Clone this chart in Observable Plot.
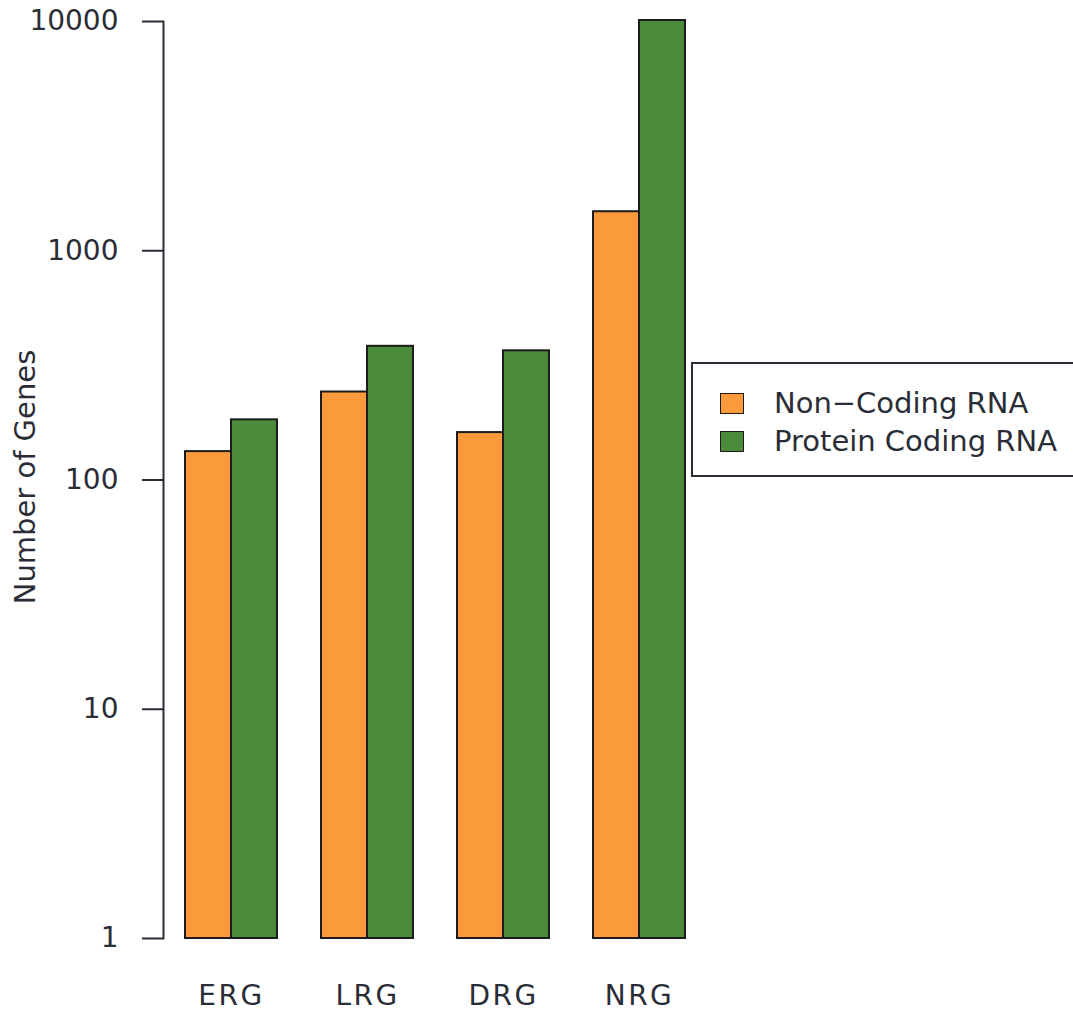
<!DOCTYPE html>
<html>
<head>
<meta charset="utf-8">
<script src="https://cdn.jsdelivr.net/npm/d3@7"></script>
<script src="https://cdn.jsdelivr.net/npm/@observablehq/plot@0.6"></script>
<style>
  html, body { margin: 0; padding: 0; background: #fff; overflow: hidden; }
  #wrap { position: relative; width: 1073px; height: 1013px; }
  .genes g[aria-label="fx-axis tick label"] text { letter-spacing: 2.5px; }
  #ytitle {
    position: absolute; left: 25px; top: 477px;
    transform: translate(-50%, -50%) rotate(-90deg);
    font: 29px "DejaVu Sans", sans-serif; color: #2a2d36; white-space: nowrap;
  }
  #legend {
    position: absolute; left: 691px; top: 362px; width: 420px; height: 111px;
    border: 2.5px solid #2a2d36; background: #fff; box-sizing: content-box;
    font: 29px "DejaVu Sans", sans-serif; color: #2a2d36;
  }
  #legend .row { position: absolute; left: 27px; height: 38px; display: flex; align-items: center; white-space: nowrap; }
  #legend .sw { width: 22px; height: 19px; border: 1.5px solid #1c1c1c; margin-right: 30px; }
</style>
</head>
<body>
<div id="wrap"></div>
<script>
// Gene counts per response group, by RNA type (log scale)
const groups = ["ERG", "LRG", "DRG", "NRG"];
const series = ["Non\u2212Coding RNA", "Protein Coding RNA"];
const nonCoding = [133, 242, 161, 1480];
const proteinCoding = [183, 383, 366, 10100];
const colors = ["#fa9a3a", "#4b8b3b"];
const yTicks = [1, 10, 100, 1000, 10000];

const rows = groups.flatMap((g, i) => [
  {group: g, type: series[0], value: nonCoding[i]},
  {group: g, type: series[1], value: proteinCoding[i]}
]);

const ink = "#2a2d36";

const chart = Plot.plot({
  width: 1073,
  height: 1013,
  marginTop: 21,
  marginBottom: 75,
  marginLeft: 163,
  marginRight: 366,
  className: "genes",
  style: {fontFamily: "DejaVu Sans, sans-serif", fontSize: "28px", color: ink, background: "#fff", overflow: "visible"},
  fx: {domain: groups, padding: 0, label: null},
  x: {domain: series, paddingInner: 0, paddingOuter: 0.478, axis: null},
  y: {type: "log", domain: [1, 10000], label: null},
  color: {domain: series, range: colors},
  marks: [
    Plot.barY(rows, {
      fx: "group", x: "type", y1: 1, y2: "value",
      fill: "type", stroke: "#1c1c1c", strokeWidth: 2
    }),
    // vertical axis line on the leftmost facet only
    Plot.frame({anchor: "left", facetAnchor: "left", stroke: ink, strokeWidth: 2}),
    Plot.axisY({
      ticks: yTicks, tickFormat: d => String(d),
      tickSize: 21, tickPadding: 24, strokeWidth: 2,
      label: null, stroke: ink
    }),
    Plot.axisFx({anchor: "bottom", tickSize: 0, tickPadding: 47, label: null})
  ]
});

const wrap = document.getElementById("wrap");
wrap.appendChild(chart);

const title = document.createElement("div");
title.id = "ytitle";
title.textContent = "Number of Genes";
wrap.appendChild(title);

const legend = document.createElement("div");
legend.id = "legend";
series.forEach((s, i) => {
  const row = document.createElement("div");
  row.className = "row";
  row.style.top = (20 + i * 38) + "px";
  const sw = document.createElement("span");
  sw.className = "sw";
  sw.style.background = colors[i];
  const label = document.createElement("span");
  label.textContent = s;
  row.appendChild(sw);
  row.appendChild(label);
  legend.appendChild(row);
});
wrap.appendChild(legend);
</script>
</body>
</html>
